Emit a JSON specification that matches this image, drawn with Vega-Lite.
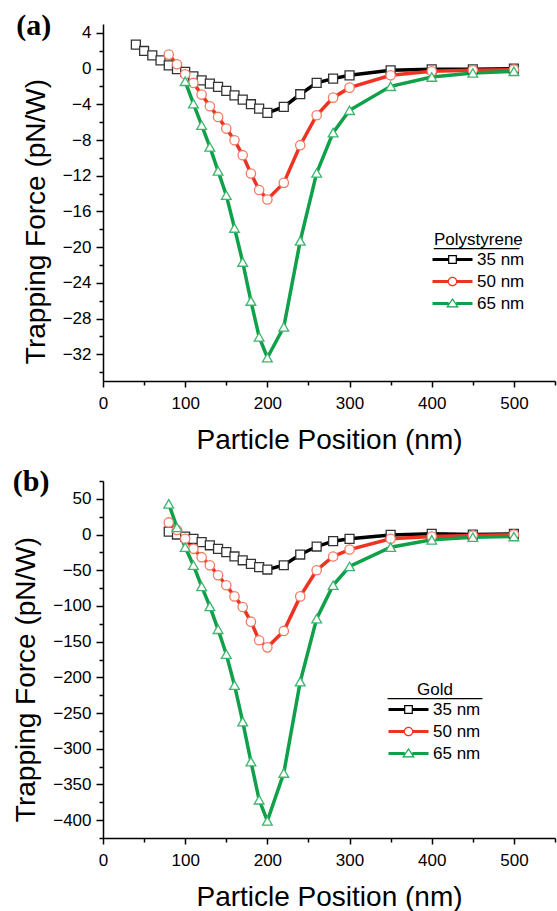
{
  "$schema": "https://vega.github.io/schema/vega-lite/v6.json",
  "background": "white",
  "padding": {"left": 12, "top": 10, "right": 2, "bottom": 0},
  "spacing": 13,
  "config": {
    "view": {"stroke": null},
    "font": "Liberation Sans",
    "axis": {
      "grid": false,
      "domainColor": "black", "domainWidth": 1.5,
      "tickColor": "black", "tickWidth": 1.5,
      "labelColor": "black", "labelFont": "Liberation Sans", "labelFontSize": 17,
      "titleColor": "black", "titleFont": "Liberation Sans", "titleFontSize": 28, "titleFontWeight": "normal"
    },
    "legend": {
      "labelFont": "Liberation Sans", "labelFontSize": 17, "labelColor": "black",
      "titleFont": "Liberation Sans", "titleFontSize": 17, "titleFontWeight": "normal", "titleColor": "black",
      "padding": 0, "symbolSize": 64, "rowPadding": 4, "labelOffset": 16, "symbolOffset": 10, "titleLineHeight": 1, "titlePadding": 1
    }
  },
  "resolve": {"scale": {"color": "independent"}, "legend": {"color": "independent"}},
  "vconcat": [
    {
      "width": 452, "height": 357,
      "title": {"text": "(a)", "anchor": "start", "frame": "bounds", "font": "Liberation Serif", "fontWeight": "bold", "fontSize": 30, "color": "black", "dy": 17, "dx": -6, "offset": 0},
      "data": {"values": [
        {"x": 40, "f": 2.69, "s": "35 nm"}, {"x": 50, "f": 1.98, "s": "35 nm"}, {"x": 60, "f": 1.49, "s": "35 nm"},
        {"x": 70, "f": 0.93, "s": "35 nm"}, {"x": 80, "f": 0.37, "s": "35 nm"}, {"x": 90, "f": -0.07, "s": "35 nm"},
        {"x": 100, "f": -0.37, "s": "35 nm"}, {"x": 110, "f": -0.86, "s": "35 nm"}, {"x": 120, "f": -1.31, "s": "35 nm"},
        {"x": 130, "f": -1.68, "s": "35 nm"}, {"x": 140, "f": -2.05, "s": "35 nm"}, {"x": 150, "f": -2.5, "s": "35 nm"},
        {"x": 160, "f": -2.99, "s": "35 nm"}, {"x": 170, "f": -3.47, "s": "35 nm"}, {"x": 180, "f": -3.99, "s": "35 nm"},
        {"x": 190, "f": -4.48, "s": "35 nm"}, {"x": 200, "f": -4.96, "s": "35 nm"}, {"x": 220, "f": -4.29, "s": "35 nm"},
        {"x": 240, "f": -2.87, "s": "35 nm"}, {"x": 260, "f": -1.6, "s": "35 nm"}, {"x": 280, "f": -1.12, "s": "35 nm"},
        {"x": 300, "f": -0.75, "s": "35 nm"}, {"x": 350, "f": -0.19, "s": "35 nm"}, {"x": 400, "f": -0.07, "s": "35 nm"},
        {"x": 450, "f": -0.07, "s": "35 nm"}, {"x": 500, "f": 0.0, "s": "35 nm"},
        {"x": 80, "f": 1.57, "s": "50 nm"}, {"x": 90, "f": 0.49, "s": "50 nm"}, {"x": 100, "f": -0.63, "s": "50 nm"},
        {"x": 110, "f": -1.6, "s": "50 nm"}, {"x": 120, "f": -2.91, "s": "50 nm"}, {"x": 130, "f": -4.22, "s": "50 nm"},
        {"x": 140, "f": -5.41, "s": "50 nm"}, {"x": 150, "f": -6.72, "s": "50 nm"}, {"x": 160, "f": -8.02, "s": "50 nm"},
        {"x": 170, "f": -9.7, "s": "50 nm"}, {"x": 180, "f": -11.75, "s": "50 nm"}, {"x": 190, "f": -13.6, "s": "50 nm"},
        {"x": 200, "f": -14.66, "s": "50 nm"}, {"x": 220, "f": -12.8, "s": "50 nm"}, {"x": 240, "f": -8.58, "s": "50 nm"},
        {"x": 260, "f": -5.22, "s": "50 nm"}, {"x": 280, "f": -3.25, "s": "50 nm"}, {"x": 300, "f": -2.13, "s": "50 nm"},
        {"x": 350, "f": -0.75, "s": "50 nm"}, {"x": 400, "f": -0.3, "s": "50 nm"}, {"x": 450, "f": -0.19, "s": "50 nm"},
        {"x": 500, "f": -0.11, "s": "50 nm"},
        {"x": 100, "f": -1.42, "s": "65 nm"}, {"x": 110, "f": -3.92, "s": "65 nm"}, {"x": 120, "f": -6.34, "s": "65 nm"},
        {"x": 130, "f": -8.77, "s": "65 nm"}, {"x": 140, "f": -11.46, "s": "65 nm"}, {"x": 150, "f": -14.18, "s": "65 nm"},
        {"x": 160, "f": -17.86, "s": "65 nm"}, {"x": 170, "f": -21.67, "s": "65 nm"}, {"x": 180, "f": -26.04, "s": "65 nm"},
        {"x": 190, "f": -30.07, "s": "65 nm"}, {"x": 200, "f": -32.39, "s": "65 nm"}, {"x": 220, "f": -28.95, "s": "65 nm"},
        {"x": 240, "f": -19.3, "s": "65 nm"}, {"x": 260, "f": -11.69, "s": "65 nm"}, {"x": 280, "f": -7.17, "s": "65 nm"},
        {"x": 300, "f": -4.67, "s": "65 nm"}, {"x": 350, "f": -1.98, "s": "65 nm"}, {"x": 400, "f": -0.94, "s": "65 nm"},
        {"x": 450, "f": -0.49, "s": "65 nm"}, {"x": 500, "f": -0.3, "s": "65 nm"}
      ]},
      "encoding": {
        "x": {"field": "x", "type": "quantitative", "scale": {"domain": [0, 550], "nice": false, "zero": false},
          "axis": {"title": "Particle Position (nm)", "values": [0, 50, 100, 150, 200, 250, 300, 350, 400, 450, 500, 550],
            "labelExpr": "datum.value % 100 === 0 ? datum.label : ''",
            "tickSize": {"condition": {"test": "datum.value % 100 === 0", "value": 6}, "value": 4},
            "labelPadding": 8, "titlePadding": 15, "labelFlush": false}},
        "y": {"field": "f", "type": "quantitative", "scale": {"domain": [-35, 5], "nice": false, "zero": false},
          "axis": {"title": "Trapping Force (pN/W)", "values": [-34, -32, -30, -28, -26, -24, -22, -20, -18, -16, -14, -12, -10, -8, -6, -4, -2, 0, 2, 4],
            "labelExpr": "datum.value % 4 === 0 ? datum.label : ''",
            "tickSize": {"condition": {"test": "datum.value % 4 === 0", "value": 7}, "value": 4},
            "labelPadding": 5, "titlePadding": 12, "titleY": 197}}
      },
      "layer": [
        {
          "mark": {"type": "line", "strokeWidth": 3.5},
          "encoding": {
            "color": {"field": "s", "type": "nominal",
              "scale": {"domain": ["35 nm", "50 nm", "65 nm"], "range": ["#000000", "#ee3322", "#10a04a"]},
              "legend": {"title": ["Polystyrene", "_________"], "orient": "none", "legendX": 331, "legendY": 208,
                "encode": {"symbols": {"update": {
                  "shape": {"signal": "datum.value === '35 nm' ? 'M-5,-0.4H-1.1V0.4H-5ZM1.1,-0.4H5V0.4H1.1ZM-1.1,-1.1H1.1V1.1H-1.1ZM-0.8,-0.8V0.8H0.8V-0.8Z' : datum.value === '50 nm' ? 'M-5,-0.4H-1.05V0.4H-5ZM1.05,-0.4H5V0.4H1.05ZM-1.2,0A1.2,1.2 0 1,1 1.2,0A1.2,1.2 0 1,1 -1.2,0ZM-0.9,0A0.9,0.9 0 1,0 0.9,0A0.9,0.9 0 1,0 -0.9,0Z' : 'M-5,-0.4H-0.95V0.4H-5ZM0.95,-0.4H5V0.4H0.95ZM0,-1.4L1.6,1L-1.6,1ZM0,-0.86L-1.04,0.7L1.04,0.7Z'"},
                  "fill": {"signal": "datum.value === '35 nm' ? '#000000' : datum.value === '50 nm' ? '#ee3322' : '#10a04a'"},
                  "stroke": {"value": "transparent"},
                  "strokeWidth": {"value": 0},
                  "size": {"value": 64},
                  "opacity": {"value": 1}
                }}}}
            }
          }
        },
        {
          "mark": {"type": "point", "filled": true, "fill": "white", "strokeWidth": 1.3, "opacity": 1},
          "encoding": {
            "shape": {"field": "s", "type": "nominal", "scale": {"domain": ["35 nm", "50 nm", "65 nm"], "range": ["square", "circle", "triangle-up"]}, "legend": null},
            "stroke": {"field": "s", "type": "nominal", "scale": {"domain": ["35 nm", "50 nm", "65 nm"], "range": ["#333333", "#f47a62", "#3db56e"]}, "legend": null},
            "size": {"field": "s", "type": "ordinal", "scale": {"domain": ["35 nm", "50 nm", "65 nm"], "range": [80, 95, 150]}, "legend": null}
          }
        }
      ]
    },
    {
      "width": 452, "height": 357,
      "title": {"text": "(b)", "anchor": "start", "frame": "bounds", "font": "Liberation Serif", "fontWeight": "bold", "fontSize": 30, "color": "black", "dy": 17, "offset": 0},
      "data": {"values": [
        {"x": 80, "f": 4, "s": "35 nm"}, {"x": 90, "f": 0, "s": "35 nm"}, {"x": 100, "f": -3, "s": "35 nm"},
        {"x": 110, "f": -6, "s": "35 nm"}, {"x": 120, "f": -10.7, "s": "35 nm"}, {"x": 130, "f": -15, "s": "35 nm"},
        {"x": 140, "f": -20, "s": "35 nm"}, {"x": 150, "f": -24.7, "s": "35 nm"}, {"x": 160, "f": -30.7, "s": "35 nm"},
        {"x": 170, "f": -36, "s": "35 nm"}, {"x": 180, "f": -41, "s": "35 nm"}, {"x": 190, "f": -45.6, "s": "35 nm"},
        {"x": 200, "f": -49, "s": "35 nm"}, {"x": 220, "f": -43, "s": "35 nm"}, {"x": 240, "f": -28, "s": "35 nm"},
        {"x": 260, "f": -16.8, "s": "35 nm"}, {"x": 280, "f": -9.3, "s": "35 nm"}, {"x": 300, "f": -6, "s": "35 nm"},
        {"x": 350, "f": -0.5, "s": "35 nm"}, {"x": 400, "f": 1, "s": "35 nm"}, {"x": 450, "f": 0, "s": "35 nm"},
        {"x": 500, "f": 1, "s": "35 nm"},
        {"x": 80, "f": 17, "s": "50 nm"}, {"x": 90, "f": 6.5, "s": "50 nm"}, {"x": 100, "f": -6, "s": "50 nm"},
        {"x": 110, "f": -20, "s": "50 nm"}, {"x": 120, "f": -31.7, "s": "50 nm"}, {"x": 130, "f": -43, "s": "50 nm"},
        {"x": 140, "f": -57, "s": "50 nm"}, {"x": 150, "f": -71, "s": "50 nm"}, {"x": 160, "f": -86.6, "s": "50 nm"},
        {"x": 170, "f": -101.5, "s": "50 nm"}, {"x": 180, "f": -122, "s": "50 nm"}, {"x": 190, "f": -148, "s": "50 nm"},
        {"x": 200, "f": -158, "s": "50 nm"}, {"x": 220, "f": -135, "s": "50 nm"}, {"x": 240, "f": -86.6, "s": "50 nm"},
        {"x": 260, "f": -50, "s": "50 nm"}, {"x": 280, "f": -30.7, "s": "50 nm"}, {"x": 300, "f": -21, "s": "50 nm"},
        {"x": 350, "f": -6, "s": "50 nm"}, {"x": 400, "f": -2.8, "s": "50 nm"}, {"x": 450, "f": -1.4, "s": "50 nm"},
        {"x": 500, "f": 0, "s": "50 nm"},
        {"x": 80, "f": 43, "s": "65 nm"}, {"x": 90, "f": 10, "s": "65 nm"}, {"x": 100, "f": -17.7, "s": "65 nm"},
        {"x": 110, "f": -43, "s": "65 nm"}, {"x": 120, "f": -72.6, "s": "65 nm"}, {"x": 130, "f": -100.6, "s": "65 nm"},
        {"x": 140, "f": -132.7, "s": "65 nm"}, {"x": 150, "f": -167.6, "s": "65 nm"}, {"x": 160, "f": -211, "s": "65 nm"},
        {"x": 170, "f": -262, "s": "65 nm"}, {"x": 180, "f": -318, "s": "65 nm"}, {"x": 190, "f": -371.5, "s": "65 nm"},
        {"x": 200, "f": -401, "s": "65 nm"}, {"x": 220, "f": -334, "s": "65 nm"}, {"x": 240, "f": -206, "s": "65 nm"},
        {"x": 260, "f": -117.8, "s": "65 nm"}, {"x": 280, "f": -71, "s": "65 nm"}, {"x": 300, "f": -44.7, "s": "65 nm"},
        {"x": 350, "f": -17.7, "s": "65 nm"}, {"x": 400, "f": -7.4, "s": "65 nm"}, {"x": 450, "f": -3.7, "s": "65 nm"},
        {"x": 500, "f": -2.8, "s": "65 nm"}
      ]},
      "encoding": {
        "x": {"field": "x", "type": "quantitative", "scale": {"domain": [0, 550], "nice": false, "zero": false},
          "axis": {"title": "Particle Position (nm)", "values": [0, 50, 100, 150, 200, 250, 300, 350, 400, 450, 500, 550],
            "labelExpr": "datum.value % 100 === 0 ? datum.label : ''",
            "tickSize": {"condition": {"test": "datum.value % 100 === 0", "value": 6}, "value": 4},
            "labelPadding": 8, "titlePadding": 15, "labelFlush": false}},
        "y": {"field": "f", "type": "quantitative", "scale": {"domain": [-425, 75], "nice": false, "zero": false},
          "axis": {"title": "Trapping Force (pN/W)", "values": [-425, -400, -375, -350, -325, -300, -275, -250, -225, -200, -175, -150, -125, -100, -75, -50, -25, 0, 25, 50, 75],
            "labelExpr": "datum.value % 50 === 0 ? datum.label : ''",
            "tickSize": {"condition": {"test": "datum.value % 50 === 0", "value": 7}, "value": 4},
            "labelPadding": 5, "titlePadding": 12, "titleY": 198}}
      },
      "layer": [
        {
          "mark": {"type": "line", "strokeWidth": 3.5},
          "encoding": {
            "color": {"field": "s", "type": "nominal",
              "scale": {"domain": ["35 nm", "50 nm", "65 nm"], "range": ["#000000", "#ee3322", "#10a04a"]},
              "legend": {"title": ["Gold", "__________"], "orient": "none", "legendX": 285, "legendY": 201, "titleAnchor": "middle", "titleAlign": "center",
                "encode": {"symbols": {"update": {
                  "shape": {"signal": "datum.value === '35 nm' ? 'M-5,-0.4H-1.1V0.4H-5ZM1.1,-0.4H5V0.4H1.1ZM-1.1,-1.1H1.1V1.1H-1.1ZM-0.8,-0.8V0.8H0.8V-0.8Z' : datum.value === '50 nm' ? 'M-5,-0.4H-1.05V0.4H-5ZM1.05,-0.4H5V0.4H1.05ZM-1.2,0A1.2,1.2 0 1,1 1.2,0A1.2,1.2 0 1,1 -1.2,0ZM-0.9,0A0.9,0.9 0 1,0 0.9,0A0.9,0.9 0 1,0 -0.9,0Z' : 'M-5,-0.4H-0.95V0.4H-5ZM0.95,-0.4H5V0.4H0.95ZM0,-1.4L1.6,1L-1.6,1ZM0,-0.86L-1.04,0.7L1.04,0.7Z'"},
                  "fill": {"signal": "datum.value === '35 nm' ? '#000000' : datum.value === '50 nm' ? '#ee3322' : '#10a04a'"},
                  "stroke": {"value": "transparent"},
                  "strokeWidth": {"value": 0},
                  "size": {"value": 64},
                  "opacity": {"value": 1}
                }}}}
            }
          }
        },
        {
          "mark": {"type": "point", "filled": true, "fill": "white", "strokeWidth": 1.3, "opacity": 1},
          "encoding": {
            "shape": {"field": "s", "type": "nominal", "scale": {"domain": ["35 nm", "50 nm", "65 nm"], "range": ["square", "circle", "triangle-up"]}, "legend": null},
            "stroke": {"field": "s", "type": "nominal", "scale": {"domain": ["35 nm", "50 nm", "65 nm"], "range": ["#333333", "#f47a62", "#3db56e"]}, "legend": null},
            "size": {"field": "s", "type": "ordinal", "scale": {"domain": ["35 nm", "50 nm", "65 nm"], "range": [80, 95, 150]}, "legend": null}
          }
        }
      ]
    }
  ]
}
